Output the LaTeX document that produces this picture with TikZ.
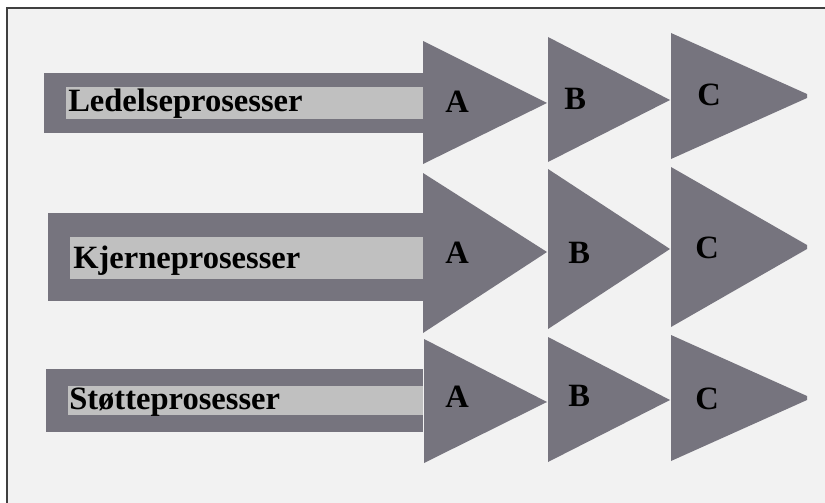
\documentclass[tikz,border=0pt]{standalone}
\usepackage{fontspec}
\setmainfont{Liberation Serif}
\definecolor{bgc}{HTML}{F2F2F2}
\definecolor{darkc}{HTML}{76747E}
\definecolor{lightc}{HTML}{C0C0C0}
\definecolor{framec}{HTML}{404040}
\begin{document}
\begin{tikzpicture}[x=0.75pt,y=-0.75pt,
  lbl/.style={anchor=base west,inner sep=0pt,font=\fontsize{24.4}{29}\selectfont\bfseries,text=black},
  dark/.style={fill=darkc},
  light/.style={fill=lightc}]
\useasboundingbox (0,0) rectangle (825,503);
\fill[white] (0,0) rectangle (825,503);
\fill[bgc] (7,8) rectangle (825,503);
\draw[framec,line width=2pt] (7,503) -- (7,8) -- (825,8);
% row 1
\fill[dark] (44,73) rectangle (423,133);
\fill[light] (66,87) rectangle (423,119);
\fill[dark] (423,41) -- (423,164) -- (547,103) -- cycle;
\fill[dark] (548,37) -- (548,162) -- (670,100) -- cycle;
\fill[dark] (671,33) -- (671,159) -- (807,98) -- (807,94) -- cycle;
% row 2
\fill[dark] (48,213) rectangle (423,301);
\fill[light] (70,237) rectangle (423,279);
\fill[dark] (423,173) -- (423,333) -- (547,252) -- cycle;
\fill[dark] (548,169) -- (548,329) -- (670,249) -- cycle;
\fill[dark] (671,167) -- (671,327) -- (807,249) -- (807,245) -- cycle;
% row 3
\fill[dark] (46,369) rectangle (423,432);
\fill[light] (68,386) rectangle (423,415);
\fill[dark] (424,339) -- (424,463) -- (547,402) -- cycle;
\fill[dark] (548,337) -- (548,462) -- (670,400) -- cycle;
\fill[dark] (671,335) -- (671,461) -- (807,400) -- (807,396) -- cycle;
% labels
\node[lbl] (t1) at (68,112) {Ledelseprosesser};
\node[lbl] (t2) at (73,268) {Kjerneprosesser};
\node[lbl] (t3) at (69,409) {Støtteprosesser};
\node[lbl] (a1) at (445,113) {A};
\node[lbl] (b1) at (564,109) {B};
\node[lbl] (c1) at (697,105) {C};
\node[lbl] (a2) at (445,263) {A};
\node[lbl] (b2) at (568,263) {B};
\node[lbl] (c2) at (695,258) {C};
\node[lbl] (a3) at (445,407) {A};
\node[lbl] (b3) at (568,406) {B};
\node[lbl] (c3) at (695,409) {C};
\end{tikzpicture}
\end{document}
